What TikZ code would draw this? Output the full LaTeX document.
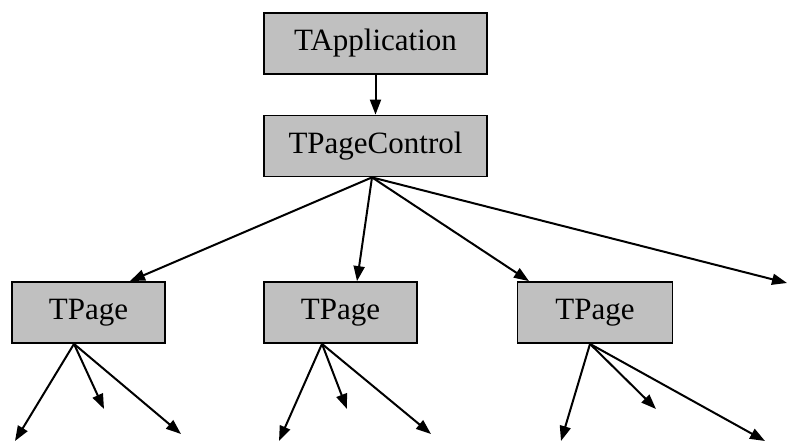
\documentclass[tikz,border=0pt]{standalone}
\usepackage{fontspec}
\setmainfont{Liberation Serif}
\usetikzlibrary{arrows.meta}
\definecolor{boxgray}{RGB}{192,192,192}
\begin{document}
\begin{tikzpicture}[x=1pt,y=-1pt,
  cls/.style={draw=black,line width=1.8pt,fill=boxgray,inner sep=0pt,minimum height=61pt,
    font=\fontsize{31}{33}\selectfont},
  edge/.style={line width=2pt,-{Triangle[length=15pt,width=11pt]}}]
\useasboundingbox (0,0) rectangle (795,441);
\node[cls,minimum width=223pt] (app) at (375.5,43.5) {TApplication};
\node[cls,minimum width=223pt] (pc) at (375.5,146) {TPageControl};
\node[cls,minimum width=153pt] (p1) at (88.5,312.5) {TPage};
\node[cls,minimum width=153pt] (p2) at (340.5,312.5) {TPage};
\node[cls,minimum width=155pt] (p3) at (595,312.5) {TPage};
% anchors
\coordinate (pco) at ([xshift=-3.5pt]pc.south);
\coordinate (p1o) at ([xshift=-14.5pt]p1.south);
\coordinate (p2o) at ([xshift=-18.5pt]p2.south);
\coordinate (p3o) at ([xshift=-5pt]p3.south);
\coordinate (p1i) at ([xshift=41.5pt]p1.north);
\coordinate (p2i) at ([xshift=16.5pt]p2.north);
\coordinate (p3i) at ([xshift=-66pt]p3.north);
% free ends
\coordinate (f0) at (787,283);
\coordinate (f1a) at (15,441);
\coordinate (f1b) at (104,409);
\coordinate (f1c) at (181,434);
\coordinate (f2a) at (279,441);
\coordinate (f2b) at (347,409);
\coordinate (f2c) at (431,434);
\coordinate (f3a) at (561,441);
\coordinate (f3b) at (656,409);
\coordinate (f3c) at (765,441);
\draw[edge] (app) -- (pc);
\draw[edge] (pco) -- (p1i);
\draw[edge] (pco) -- (p2i);
\draw[edge] (pco) -- (p3i);
\draw[edge] (pco) -- (f0);
\draw[edge] (p1o) -- (f1a);
\draw[edge] (p1o) -- (f1b);
\draw[edge] (p1o) -- (f1c);
\draw[edge] (p2o) -- (f2a);
\draw[edge] (p2o) -- (f2b);
\draw[edge] (p2o) -- (f2c);
\draw[edge] (p3o) -- (f3a);
\draw[edge] (p3o) -- (f3b);
\draw[edge] (p3o) -- (f3c);
\end{tikzpicture}
\end{document}
